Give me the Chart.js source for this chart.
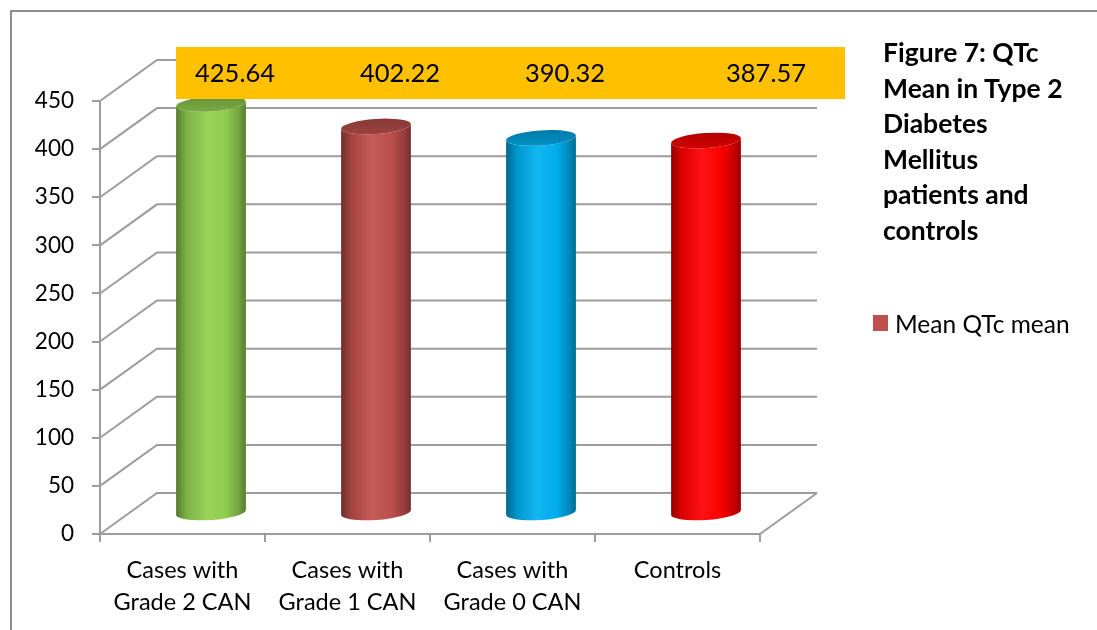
<!DOCTYPE html>
<html>
<head>
<meta charset="utf-8">
<title>QTc Mean</title>
<script src="https://cdn.jsdelivr.net/npm/chart.js@4/dist/chart.umd.min.js"></script>
<style>
    body { margin: 0; width: 1097px; height: 630px; overflow: hidden; background: #fff; font-family: Lato, sans-serif; }
    #wrap { position: relative; width: 1097px; height: 630px; }
    #chart { position: absolute; left: 0; top: 0; }
    .frame { position: absolute; left: 10px; top: 10px; width: 1200px; height: 700px; border-left: 2px solid #8f8f8f; border-top: 2px solid #8f8f8f; }
    .title { position: absolute; left: 883px; top: 35px; font-weight: bold; font-size: 26.5px; line-height: 35.5px; color: #000; white-space: nowrap; }
    .legend { position: absolute; left: 873px; top: 308px; height: 30px; display: flex; align-items: center; font-size: 24.5px; color: #000; white-space: nowrap; }
    .legend .swatch { width: 15px; height: 16px; margin-right: 7px; }
</style>
</head>
<body>
<div id="wrap">
    <div class="frame"></div>
    <canvas id="chart" width="1097" height="630"></canvas>
    <div class="title" id="title"></div>
    <div class="legend" id="legend"></div>
</div>
<script>
const categories = [["Cases with", "Grade 2 CAN"], ["Cases with", "Grade 1 CAN"], ["Cases with", "Grade 0 CAN"], "Controls"];
const qtcMeans = [425.64, 402.22, 390.32, 387.57];
const barColors = ["#92D050", "#C0504D", "#00B0F0", "#FF0000"];
const seriesName = "Mean QTc mean";
const seriesColor = "#C0504D";
const yMin = 0, yMax = 450, yStep = 50;
const titleLines = ["Figure 7: QTc", "Mean in Type 2", "Diabetes", "Mellitus", "patients and", "controls"];

// 3D look: depth offset of the back wall
const DEPTH_X = 57;
const DEPTH_Y = -41;
const GRID_COLOR = "#9c9c9c";

document.getElementById("title").innerHTML = titleLines.join("<br>");
document.getElementById("legend").innerHTML =
    `<span class="swatch" style="background:${seriesColor}"></span><span>${seriesName}</span>`;

function shade(hex, f) {
    const n = parseInt(hex.slice(1), 16);
    let r = (n >> 16) & 255, g = (n >> 8) & 255, b = n & 255;
    const t = f < 0 ? 0 : 255, p = Math.abs(f);
    r = Math.round(r + (t - r) * p);
    g = Math.round(g + (t - g) * p);
    b = Math.round(b + (t - b) * p);
    return `rgb(${r},${g},${b})`;
}

const wallPlugin = {
    id: "wall",
    beforeDatasetsDraw(chart) {
        const { ctx, scales: { x, y } } = chart;
        ctx.save();
        ctx.strokeStyle = GRID_COLOR;
        ctx.lineWidth = 2;
        y.ticks.forEach(t => {
            const yf = y.getPixelForValue(t.value);
            ctx.beginPath();
            ctx.moveTo(x.left, yf);
            ctx.lineTo(x.left + DEPTH_X, yf + DEPTH_Y);
            ctx.lineTo(x.right + DEPTH_X, yf + DEPTH_Y);
            ctx.stroke();
        });
        const y0 = y.getPixelForValue(yMin);
        ctx.beginPath();
        ctx.moveTo(x.right, y0);
        ctx.lineTo(x.right + DEPTH_X, y0 + DEPTH_Y);
        ctx.stroke();
        ctx.restore();
    }
};

function drawCylinder(ctx, cx, topY, baseY, rx, ry, color) {
    const tilt = -0.07;
    const grad = ctx.createLinearGradient(cx - rx, 0, cx + rx, 0);
    grad.addColorStop(0, shade(color, -0.42));
    grad.addColorStop(0.15, shade(color, -0.15));
    grad.addColorStop(0.45, shade(color, 0.07));
    grad.addColorStop(0.72, shade(color, -0.02));
    grad.addColorStop(0.9, shade(color, -0.22));
    grad.addColorStop(1, shade(color, -0.4));

    ctx.beginPath();
    ctx.ellipse(cx, topY, rx, ry, tilt, Math.PI, 0, true);
    ctx.ellipse(cx, baseY, rx, ry, tilt, 0, Math.PI, false);
    ctx.closePath();
    ctx.fillStyle = grad;
    ctx.fill();

    const topGrad = ctx.createLinearGradient(0, topY - ry, 0, topY + ry);
    topGrad.addColorStop(0, shade(color, -0.3));
    topGrad.addColorStop(1, shade(color, -0.18));
    ctx.beginPath();
    ctx.ellipse(cx, topY, rx, ry, tilt, 0, Math.PI * 2);
    ctx.fillStyle = topGrad;
    ctx.fill();
}

const cylinderPlugin = {
    id: "cylinders",
    afterDatasetsDraw(chart) {
        const { ctx, scales: { x, y } } = chart;
        const meta = chart.getDatasetMeta(0);
        ctx.save();
        const lefts = [];
        meta.data.forEach((bar, i) => {
            const { x: bx, y: by, base, width } = bar.getProps(["x", "y", "base", "width"], true);
            const cx = bx + DEPTH_X / 2;
            const rx = width / 2;
            drawCylinder(ctx, cx, by + DEPTH_Y / 2, base + DEPTH_Y / 2, rx, 7.5, barColors[i]);
            lefts.push(cx - rx);
        });

        // data labels on a single yellow band above the plot
        const bandLeft = lefts[0];
        const bandRight = x.right + DEPTH_X + 28;
        const bandBottom = y.top - 2;
        const bandTop = bandBottom - 52;
        ctx.fillStyle = "#FFC000";
        ctx.fillRect(bandLeft, bandTop, bandRight - bandLeft, bandBottom - bandTop);
        ctx.fillStyle = "#000";
        ctx.font = "25.5px Lato";
        ctx.textBaseline = "middle";
        qtcMeans.forEach((v, i) => {
            const last = i === qtcMeans.length - 1;
            ctx.textAlign = last ? "right" : "left";
            const tx = last ? bandRight - 39 : lefts[i] + 19;
            ctx.fillText(v.toFixed(2), tx, (bandTop + bandBottom) / 2 + 1);
        });
        ctx.restore();
    }
};

new Chart(document.getElementById("chart"), {
    type: "bar",
    data: {
        labels: categories,
        datasets: [{
            label: seriesName,
            data: qtcMeans,
            backgroundColor: "rgba(0,0,0,0)",
            borderWidth: 0,
            barPercentage: 1,
            categoryPercentage: 0.424
        }]
    },
    options: {
        responsive: false,
        devicePixelRatio: 1,
        animation: false,
        layout: { padding: { left: 0, right: 337, top: 101, bottom: 0 } },
        plugins: {
            legend: { display: false },
            tooltip: { enabled: false }
        },
        scales: {
            x: {
                grid: { drawOnChartArea: false, drawTicks: true, tickLength: 8, color: GRID_COLOR, lineWidth: 2 },
                border: { color: GRID_COLOR, width: 2 },
                ticks: { color: "#000", font: { family: "Lato", size: 23.5, lineHeight: 1.36 }, padding: 12, maxRotation: 0, autoSkip: false },
                afterFit: s => { s.height = 96; }
            },
            y: {
                min: yMin,
                max: yMax,
                ticks: { stepSize: yStep, color: "#000", font: { family: "Lato", size: 22.5 }, padding: 18 },
                grid: { drawOnChartArea: false, drawTicks: true, tickLength: 8, color: GRID_COLOR, lineWidth: 2 },
                border: { color: GRID_COLOR, width: 2 },
                afterFit: s => { s.width = 100; }
            }
        }
    },
    plugins: [wallPlugin, cylinderPlugin]
});
</script>
</body>
</html>
